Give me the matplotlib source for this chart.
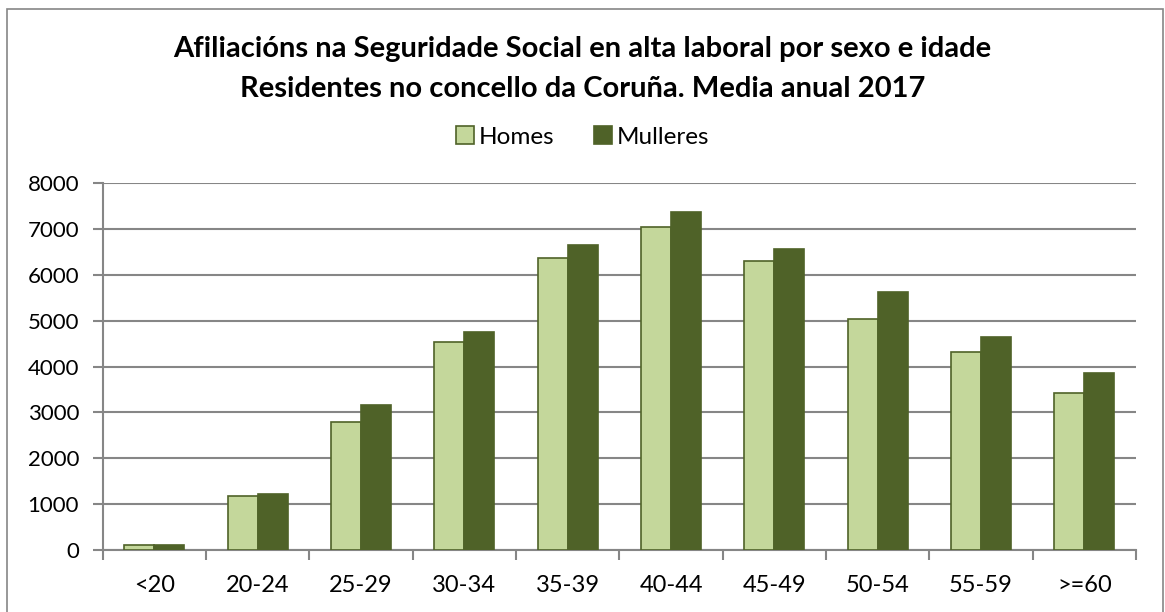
import numpy as np
import matplotlib.pyplot as plt
from matplotlib.patches import Rectangle

plt.rcParams['font.family'] = ['Lato', 'DejaVu Sans']

# Datos
grupos = ['<20', '20-24', '25-29', '30-34', '35-39', '40-44', '45-49', '50-54', '55-59', '>=60']
homes = [105, 1180, 2800, 4545, 6370, 7055, 6305, 5040, 4325, 3425]
mulleres = [100, 1215, 3170, 4750, 6645, 7365, 6560, 5635, 4640, 3870]

col_homes = '#C4D79B'
col_mulleres = '#4F6228'
col_grid = '#868686'

fig = plt.figure(figsize=(11.65, 6.12), dpi=100)
ax = fig.add_axes([0.0882, 0.1013, 0.8869, 0.5992])

x = np.arange(len(grupos))
w = 0.29
ax.bar(x - w / 2, homes, w, color=col_homes, edgecolor=col_mulleres, linewidth=1.2, label='Homes', zorder=3)
ax.bar(x + w / 2, mulleres, w, color=col_mulleres, edgecolor=col_mulleres, linewidth=1.2, label='Mulleres', zorder=3)

ax.set_xlim(-0.5, len(grupos) - 0.5)
ax.set_ylim(0, 8000)
ax.set_yticks(np.arange(0, 8001, 1000))
ax.yaxis.grid(True, color=col_grid, linewidth=1.5, zorder=0)

ax.set_xticks(x)
ax.set_xticklabels(grupos, fontsize=17)
ax.tick_params(axis='x', length=0, pad=18)
ax.set_xticks(np.arange(-0.5, len(grupos)), minor=True)
ax.tick_params(axis='x', which='minor', length=7, width=1.5, color=col_grid)
ax.tick_params(axis='y', labelsize=16, length=7, width=1.5, color=col_grid, pad=10)

for s in ['top', 'right']:
    ax.spines[s].set_visible(False)
for s in ['left', 'bottom']:
    ax.spines[s].set_color(col_grid)
    ax.spines[s].set_linewidth(1.5)

fig.text(0.5, 0.92, 'Afiliacións na Seguridade Social en alta laboral por sexo e idade',
         ha='center', va='center', fontsize=21, fontweight='bold')
fig.text(0.5, 0.855, 'Residentes no concello da Coruña. Media anual 2017',
         ha='center', va='center', fontsize=21, fontweight='bold')

fig.legend(loc='center', bbox_to_anchor=(0.5, 0.776), ncol=2, frameon=False,
           fontsize=17.5, handlelength=0.75, handleheight=0.75, handletextpad=0.2,
           columnspacing=1.6)

# marco exterior
fig.patches.append(Rectangle((0.006, -0.01), 0.992, 0.995, transform=fig.transFigure,
                             fill=False, edgecolor=col_grid, linewidth=1.2))

fig.savefig('out.png', dpi=100)
